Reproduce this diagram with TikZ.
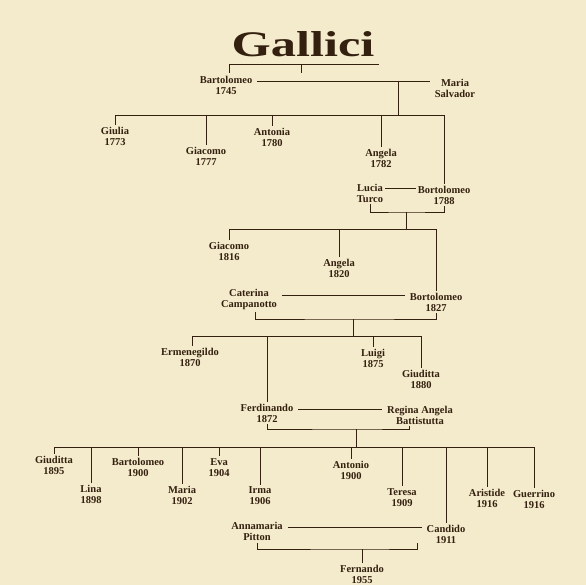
\documentclass[tikz,border=0pt]{standalone}
\usepackage{fontspec}
\setmainfont{Liberation Serif}
\newfontfamily\titlefont[FakeStretch=1.4]{Liberation Serif Bold}
\definecolor{paper}{HTML}{F4EBCC}
\definecolor{ink}{HTML}{33200F}
\begin{document}
\begin{tikzpicture}[x=1pt,y=-1pt,
  every node/.style={text=ink,align=center,inner sep=2pt,font=\bfseries\fontsize{10.5}{11}\selectfont},
  line/.style={draw=ink,line width=0.7pt}]
  \fill[paper] (0,0) rectangle (586,585);
  \useasboundingbox (0,0) rectangle (586,585);
  % title
  \node (title) at (303,44.5) {\titlefont\fontsize{36}{36}\selectfont Gallici};
  \coordinate (tl) at (229,64); \coordinate (tr) at (379,64);
  \coordinate (t1) at (229,73); \coordinate (t2) at (301,73);
  \draw[line] (t1) -- (tl) -- (tr);
  \draw[line] (t2) -- (t2 |- tl);
  % Bartolomeo and Maria
  \path (226,85) node (bart45) {Bartolomeo\\1745}
  (455,88) node (maria) {Maria\\Salvador};
  \coordinate (m1) at (398,81); \coordinate (k1) at (398,115);
  \draw[line] ([xshift=3pt]bart45.east |- m1) -- ([xshift=-3pt]maria.west |- m1);
  \draw[line] (m1) -- (k1);
  \path (115,136.5) node (giulia) {Giulia\\1773} (206,156.5) node (giacomo77) {Giacomo\\1777}
  (272,137) node (antonia) {Antonia\\1780} (381,158) node (angela82) {Angela\\1782}
  (444,195) node (bart88) {Bortolomeo\\1788} (370,193) node (lucia) {Lucia\\Turco};
  \draw[line] (k1 -| giulia) -- (k1 -| bart88);
  \draw[line] (k1 -| giulia) -- (giulia.north);
  \draw[line] (k1 -| giacomo77) -- (giacomo77.north);
  \draw[line] (k1 -| antonia) -- (antonia.north);
  \draw[line] (k1 -| angela82) -- (angela82.north);
  \draw[line] (k1 -| bart88) -- (bart88.north);
  % Lucia and Bortolomeo
  \coordinate (m2) at (406,188); \coordinate (j2) at (406,212); \coordinate (k2) at (406,229);
  \draw[line] (lucia.east |- m2) -- (bart88.west |- m2);
  \draw[line] (lucia.south) |- (j2) -| (bart88.south);
  \draw[line] (j2) -- (k2);
  \path (229,251) node (giacomo16) {Giacomo\\1816} (339,268.5) node (angela20) {Angela\\1820}
  (436,302) node (bart27) {Bortolomeo\\1827} (249,299.5) node (caterina) {Caterina\\Campanotto};
  \draw[line] (k2 -| giacomo16) -- (k2 -| bart27);
  \draw[line] (k2 -| giacomo16) -- (giacomo16.north);
  \draw[line] (k2 -| angela20) -- (angela20.north);
  \draw[line] (k2 -| bart27) -- (bart27.north);
  % Caterina and Bortolomeo
  \coordinate (m3) at (353,295); \coordinate (j3) at (353,319); \coordinate (k3) at (353,336);
  \draw[line] ([xshift=3pt]caterina.east |- m3) -- ([xshift=-3pt]bart27.west |- m3);
  \draw[line] ([xshift=6pt]caterina.south) |- (j3) -| (bart27.south);
  \draw[line] (j3) -- (k3);
  \path (190,357) node (ermen) {Ermenegildo\\1870} (267,413) node (ferdinando) {Ferdinando\\1872}
  (373,358) node (luigi) {Luigi\\1875} (421,379.5) node (giuditta80) {Giuditta\\1880}
  (420,415) node (regina) {Regina Angela\\Battistutta};
  \draw[line] ([xshift=2pt]k3 -| ermen) -- (k3 -| giuditta80);
  \draw[line] ([xshift=2pt]k3 -| ermen) -- ([xshift=2pt]ermen.north);
  \draw[line] (k3 -| ferdinando) -- (ferdinando.north);
  \draw[line] (k3 -| luigi) -- (luigi.north);
  \draw[line] (k3 -| giuditta80) -- (giuditta80.north);
  % Ferdinando and Regina Angela
  \coordinate (m4) at (356,409); \coordinate (j4) at (356,429); \coordinate (k4) at (356,447);
  \draw[line] ([xshift=3pt]ferdinando.east |- m4) -- ([xshift=-3pt]regina.west |- m4);
  \draw[line] (ferdinando.south) |- (j4) -| ([xshift=-11pt]regina.south);
  \draw[line] (j4) -- (k4);
  \path (54,465.5) node (giuditta95) {Giuditta\\1895} (91,494.5) node (lina) {Lina\\1898}
  (138,467) node (bart00) {Bartolomeo\\1900} (182,495) node (maria02) {Maria\\1902}
  (219,467.5) node (eva) {Eva\\1904} (260,496) node (irma) {Irma\\1906}
  (351,470) node (antonio) {Antonio\\1900} (402,497.5) node (teresa) {Teresa\\1909}
  (446,534.5) node (candido) {Candido\\1911} (487,498) node (aristide) {Aristide\\1916}
  (534,499) node (guerrino) {Guerrino\\1916};
  \draw[line] (k4 -| giuditta95) -- (k4 -| guerrino);
  \draw[line] (k4 -| giuditta95) -- (giuditta95.north);
  \draw[line] (k4 -| lina) -- (lina.north);
  \draw[line] (k4 -| bart00) -- (bart00.north);
  \draw[line] (k4 -| maria02) -- (maria02.north);
  \draw[line] (k4 -| eva) -- (eva.north);
  \draw[line] (k4 -| irma) -- (irma.north);
  \draw[line] (k4 -| antonio) -- (antonio.north);
  \draw[line] (k4 -| teresa) -- (teresa.north);
  \draw[line] (k4 -| candido) -- (candido.north);
  \draw[line] (k4 -| aristide) -- (aristide.north);
  \draw[line] (k4 -| guerrino) -- (guerrino.north);
  % Annamaria and Candido
  \path (257,531.5) node (annamaria) {Annamaria\\Pitton} (362,574.5) node (fernando) {Fernando\\1955};
  \coordinate (m5) at (362,527); \coordinate (j5) at (362,549); \coordinate (c5) at (417,543);
  \draw[line] ([xshift=3pt]annamaria.east |- m5) -- ([xshift=-3pt]candido.west |- m5);
  \draw[line] (annamaria.south) |- (j5) -| (c5);
  \draw[line] (j5) -- (fernando.north);
\end{tikzpicture}
\end{document}
